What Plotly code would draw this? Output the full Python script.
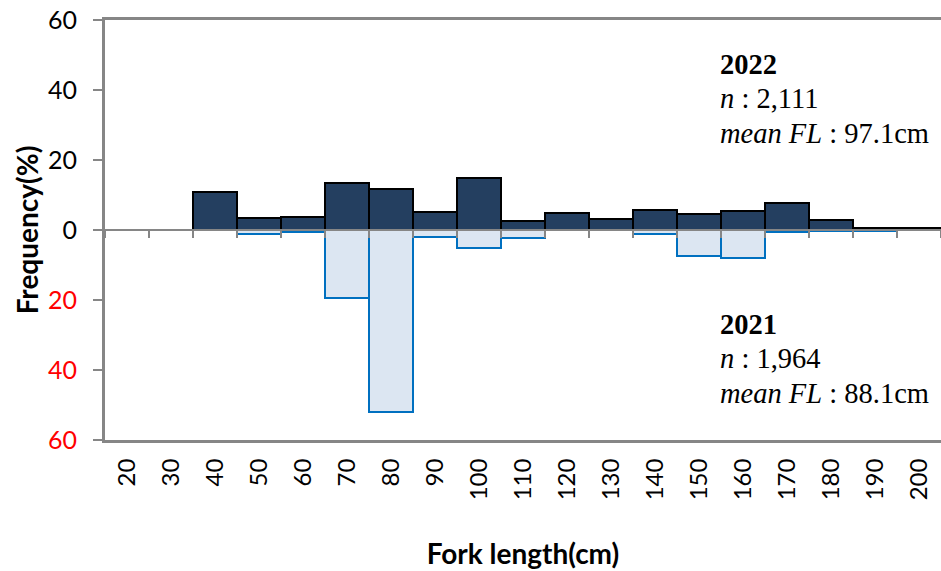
import plotly.graph_objects as go

# Fork length classes (cm)
fork_length = [20, 30, 40, 50, 60, 70, 80, 90, 100, 110, 120, 130, 140, 150, 160, 170, 180, 190, 200]
tick_labels = [str(v) for v in fork_length]

# Frequency (%) by year
freq_2022 = [0, 0, 11.0, 3.3, 3.6, 13.3, 11.7, 5.2, 15.0, 2.7, 4.8, 3.1, 5.8, 4.5, 5.3, 7.6, 2.9, 0.7, 0.6]
freq_2021 = [0, 0, 0, 1.0, 0.5, 19.3, 52.0, 2.0, 5.2, 2.4, 0, 0, 1.1, 7.3, 8.1, 0.5, 0.4, 0.3, 0]

y_tickvals = [-60, -40, -20, 0, 20, 40, 60]
y_ticktext = ['<span style="color:#FF0000">60</span>',
              '<span style="color:#FF0000">40</span>',
              '<span style="color:#FF0000">20</span>',
              '0', '20', '40', '60']

GREY = "#868686"
SANS = "Lato"
SERIF = "Liberation Serif"

fig = go.Figure()
fig.add_trace(go.Bar(
    x=fork_length, y=[v if v else None for v in freq_2022], width=10,
    marker=dict(color="#243F60", line=dict(color="#000000", width=2)),
    name="2022", showlegend=False,
))
fig.add_trace(go.Bar(
    x=fork_length, y=[-v if v else None for v in freq_2021], width=10,
    marker=dict(color="#DCE6F2", line=dict(color="#0070C0", width=2)),
    name="2021", showlegend=False,
))
# empty trace so the zero-line axis (x2) gets drawn
fig.add_trace(go.Scatter(x=[None], y=[None], xaxis="x2", yaxis="y",
                         showlegend=False, hoverinfo="skip"))

fig.update_layout(
    width=941, height=571,
    margin=dict(l=105, r=0, t=20, b=131, autoexpand=False),
    plot_bgcolor="white", paper_bgcolor="white",
    barmode="overlay", bargap=0,
    font=dict(family=SANS, color="black"),
    xaxis=dict(
        range=[15, 205], tickmode="array", tickvals=fork_length, ticktext=tick_labels,
        tickangle=-90, ticks="", showgrid=False, zeroline=False, automargin=False,
        showline=True, linecolor=GREY, linewidth=3, mirror=True,
        tickfont=dict(family=SANS, size=24, color="black"),
        ticklabelstandoff=6, ticklabeloverflow="allow",
        title=dict(text="<b>Fork length(cm)</b>", font=dict(family=SANS, size=28, color="black"), standoff=46),
    ),
    xaxis2=dict(
        overlaying="x", anchor="free", position=0.5, range=[15, 205],
        tickmode="linear", tick0=25, dtick=10, ticks="outside", ticklen=7,
        tickcolor=GREY, tickwidth=2, showticklabels=False, showgrid=False,
        zeroline=False, showline=True, linecolor=GREY, linewidth=2, automargin=False,
    ),
    yaxis=dict(
        range=[-60, 60], tickmode="array", tickvals=y_tickvals, ticktext=y_ticktext,
        ticks="outside", ticklen=9, tickcolor=GREY, tickwidth=2,
        showgrid=False, zeroline=False, automargin=False,
        showline=True, linecolor=GREY, linewidth=3,
        tickfont=dict(family=SANS, size=25, color="black"),
        ticklabelstandoff=11, ticklabeloverflow="allow",
        title=dict(text="<b>Frequency(%)</b>", font=dict(family=SANS, size=28, color="black"), standoff=2),
    ),
)

ann_font = dict(family=SERIF, size=28.5, color="black")
texts_2022 = ["<b>2022</b>", "<i>n</i> : 2,111", "<i>mean FL</i> : 97.1cm"]
texts_2021 = ["<b>2021</b>", "<i>n</i> : 1,964", "<i>mean FL</i> : 88.1cm"]
for txt, yy in zip(texts_2022, [0.895, 0.812, 0.729]):
    fig.add_annotation(text=txt, x=0.733, y=yy, xref="paper", yref="paper",
                       xanchor="left", yanchor="middle", showarrow=False, font=ann_font)
for txt, yy in zip(texts_2021, [0.276, 0.193, 0.110]):
    fig.add_annotation(text=txt, x=0.733, y=yy, xref="paper", yref="paper",
                       xanchor="left", yanchor="middle", showarrow=False, font=ann_font)

# remove the default 8px page margin so the figure fills the window exactly
fig.write_html("out.html", config={"displayModeBar": False},
               post_script="document.body.style.margin='0';document.body.style.overflow='hidden';")
